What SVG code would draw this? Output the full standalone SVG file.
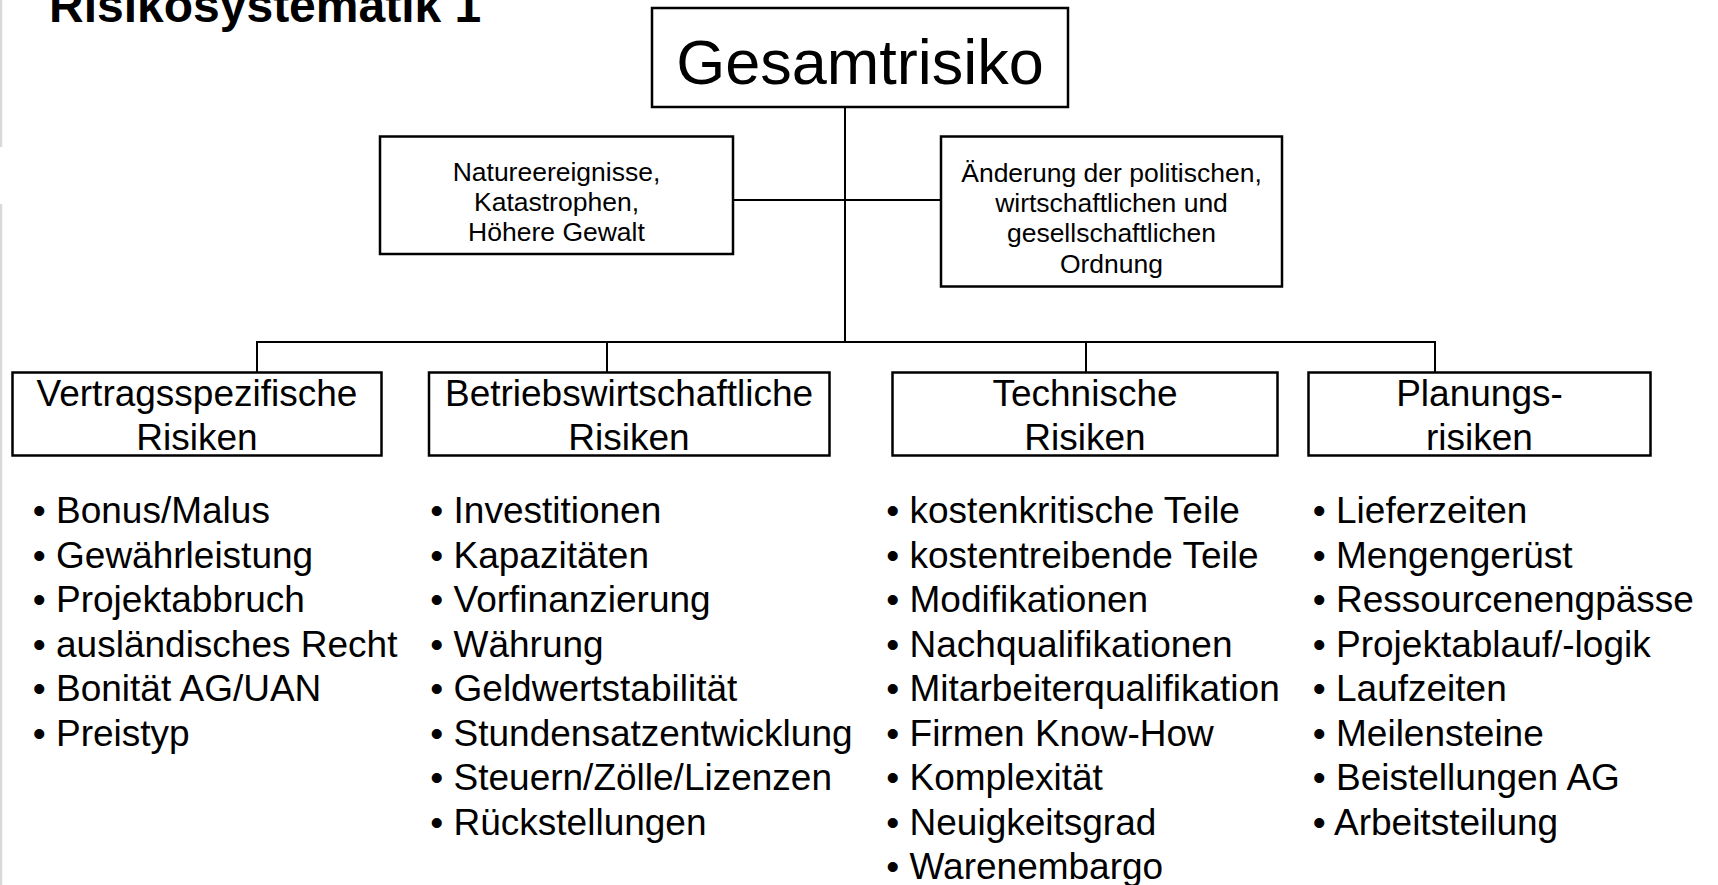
<svg xmlns="http://www.w3.org/2000/svg" width="1718" height="885" viewBox="0 0 1718 885">
  <style>
    text { font-family: "Liberation Sans", Arial, sans-serif; fill: #000; }
    .title { font-size: 48px; font-weight: bold; }
    .root { font-size: 63px; text-anchor: middle; }
    .small { font-size: 26.5px; text-anchor: middle; }
    .cat { font-size: 37px; text-anchor: middle; }
    .item { font-size: 37px; }
    .box { fill: #fff; stroke: #000; stroke-width: 2.5; }
    .conn { stroke: #000; stroke-width: 2; fill: none; }
    .edge { stroke: #d9d9d9; stroke-width: 2.5; }
  </style>

  <rect width="1718" height="885" fill="#fff"/>

  <!-- left margin rule -->
  <line class="edge" x1="1" y1="0" x2="1" y2="147"/>
  <line class="edge" x1="1" y1="204" x2="1" y2="885"/>

  <text class="title" x="49" y="22">Risikosystematik 1</text>

  <!-- connectors -->
  <g id="connectors">
    <line class="conn" x1="845" y1="107" x2="845" y2="342"/>
    <line class="conn" x1="733" y1="200" x2="941" y2="200"/>
    <line class="conn" x1="257" y1="342" x2="1435" y2="342"/>
    <line class="conn" x1="257" y1="341" x2="257" y2="372"/>
    <line class="conn" x1="607" y1="341" x2="607" y2="372"/>
    <line class="conn" x1="1086" y1="341" x2="1086" y2="372"/>
    <line class="conn" x1="1435" y1="341" x2="1435" y2="372"/>
  </g>

  <g id="gesamtrisiko">
    <rect class="box" x="652" y="8" width="416" height="99"/>
    <text class="root" x="860" y="84">Gesamtrisiko</text>
  </g>

  <g id="naturereignisse">
    <rect class="box" x="380" y="136.5" width="353" height="117.5"/>
    <text class="small" x="556.5" y="180.5">Natureereignisse,</text>
    <text class="small" x="556.5" y="210.5">Katastrophen,</text>
    <text class="small" x="556.5" y="240.5">Höhere Gewalt</text>
  </g>

  <g id="ordnung">
    <rect class="box" x="941" y="136.5" width="341" height="150"/>
    <text class="small" x="1111.5" y="181.5">Änderung der politischen,</text>
    <text class="small" x="1111.5" y="211.5">wirtschaftlichen und</text>
    <text class="small" x="1111.5" y="242">gesellschaftlichen</text>
    <text class="small" x="1111.5" y="272.5">Ordnung</text>
  </g>

  <g id="vertrag">
    <rect class="box" x="12.5" y="372.5" width="369" height="83"/>
    <text class="cat" x="197" y="406">Vertragsspezifische</text>
    <text class="cat" x="197" y="450">Risiken</text>
  </g>

  <g id="betrieb">
    <rect class="box" x="429" y="372.5" width="400.5" height="83"/>
    <text class="cat" x="629" y="406">Betriebswirtschaftliche</text>
    <text class="cat" x="629" y="450">Risiken</text>
  </g>

  <g id="technik">
    <rect class="box" x="892.5" y="372.5" width="385" height="83"/>
    <text class="cat" x="1085" y="406">Technische</text>
    <text class="cat" x="1085" y="450">Risiken</text>
  </g>

  <g id="planung">
    <rect class="box" x="1308.5" y="372.5" width="342" height="83"/>
    <text class="cat" x="1479.5" y="406">Planungs-</text>
    <text class="cat" x="1479.5" y="450">risiken</text>
  </g>

  <!-- item lists under each category -->
  <g id="vertrag-items">
    <text class="item" x="32.8" y="523">• Bonus/Malus</text>
    <text class="item" x="32.8" y="567.5">• Gewährleistung</text>
    <text class="item" x="32.8" y="612">• Projektabbruch</text>
    <text class="item" x="32.8" y="656.5">• ausländisches Recht</text>
    <text class="item" x="32.8" y="701">• Bonität AG/UAN</text>
    <text class="item" x="32.8" y="745.5">• Preistyp</text>
  </g>

  <g id="betrieb-items">
    <text class="item" x="430.3" y="523">• Investitionen</text>
    <text class="item" x="430.3" y="567.5">• Kapazitäten</text>
    <text class="item" x="430.3" y="612">• Vorfinanzierung</text>
    <text class="item" x="430.3" y="656.5">• Währung</text>
    <text class="item" x="430.3" y="701">• Geldwertstabilität</text>
    <text class="item" x="430.3" y="745.5">• Stundensatzentwicklung</text>
    <text class="item" x="430.3" y="790">• Steuern/Zölle/Lizenzen</text>
    <text class="item" x="430.3" y="834.5">• Rückstellungen</text>
  </g>

  <g id="technik-items">
    <text class="item" x="886.3" y="523">• kostenkritische Teile</text>
    <text class="item" x="886.3" y="567.5">• kostentreibende Teile</text>
    <text class="item" x="886.3" y="612">• Modifikationen</text>
    <text class="item" x="886.3" y="656.5">• Nachqualifikationen</text>
    <text class="item" x="886.3" y="701">• Mitarbeiterqualifikation</text>
    <text class="item" x="886.3" y="745.5">• Firmen Know-How</text>
    <text class="item" x="886.3" y="790">• Komplexität</text>
    <text class="item" x="886.3" y="834.5">• Neuigkeitsgrad</text>
    <text class="item" x="886.3" y="879">• Warenembargo</text>
  </g>

  <g id="planung-items">
    <text class="item" x="1312.8" y="523">• Lieferzeiten</text>
    <text class="item" x="1312.8" y="567.5">• Mengengerüst</text>
    <text class="item" x="1312.8" y="612">• Ressourcenengpässe</text>
    <text class="item" x="1312.8" y="656.5">• Projektablauf/-logik</text>
    <text class="item" x="1312.8" y="701">• Laufzeiten</text>
    <text class="item" x="1312.8" y="745.5">• Meilensteine</text>
    <text class="item" x="1312.8" y="790">• Beistellungen AG</text>
    <text class="item" x="1312.8" y="834.5">• Arbeitsteilung</text>
  </g>
</svg>
